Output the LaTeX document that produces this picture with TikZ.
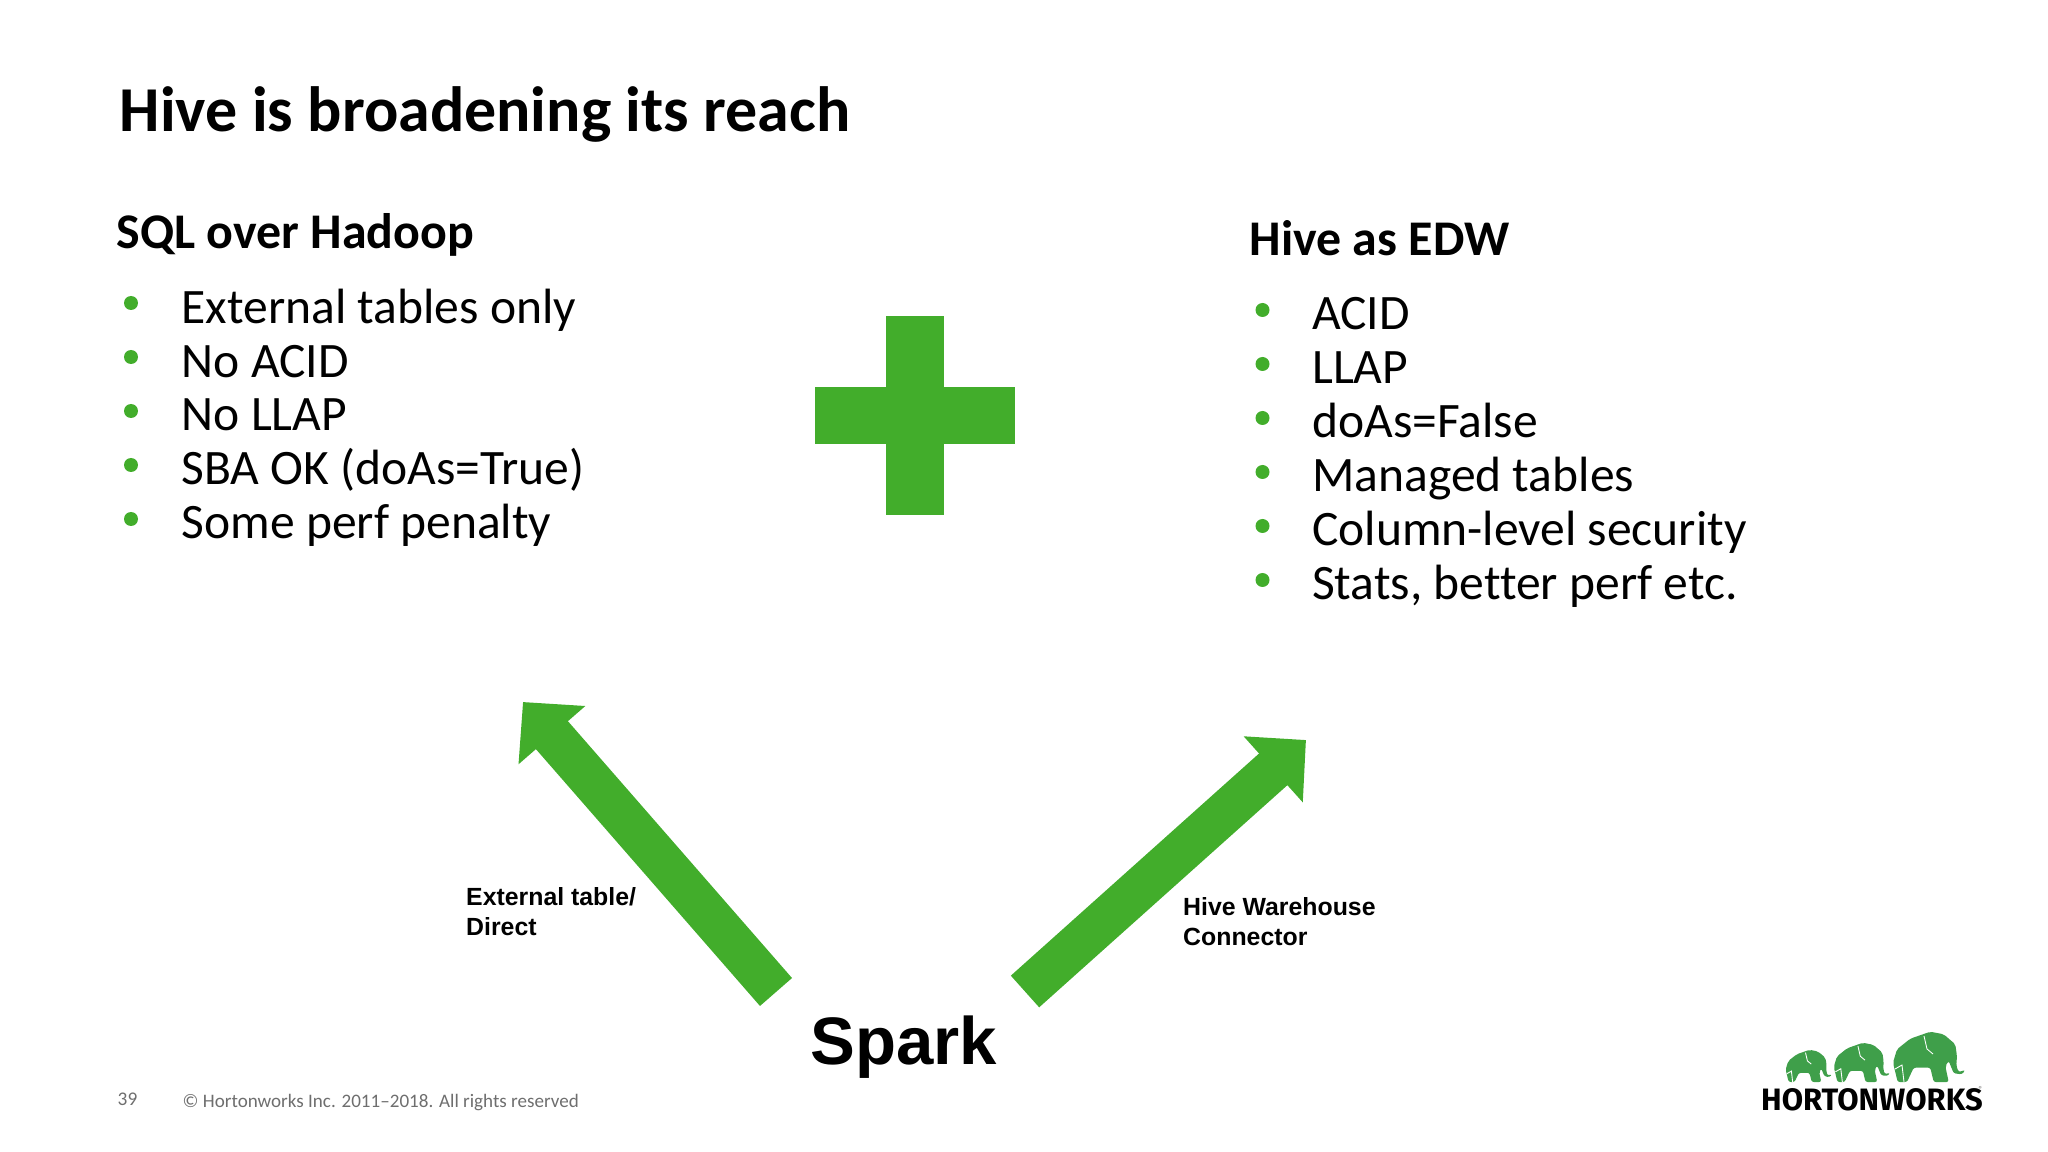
\documentclass[tikz,border=0pt]{standalone}
\usepackage{fontspec}
\usetikzlibrary{arrows.meta}
\setmainfont{Carlito}[Ligatures=NoCommon]
\newfontfamily\labelfont{Liberation Sans}
\newfontfamily\logofont{Fira Sans}
\definecolor{hwgreen}{HTML}{42AD2B}
\definecolor{logogreen}{HTML}{3F9F4A}
\definecolor{footgray}{HTML}{6E6E6E}
\begin{document}
\begin{tikzpicture}[
	txt/.style = {anchor=base west, inner sep=0},
	titletxt/.style = {txt, font=\fontsize{18.2}{22}\selectfont\bfseries},
	headtxt/.style = {txt, font=\fontsize{14.2}{17}\selectfont\bfseries},
	itemtxt/.style = {txt, font=\fontsize{14.1}{17}\selectfont},
	bulletdot/.style = {circle, fill=hwgreen, inner sep=0, minimum size=0.14cm},
	plusbar/.style = {fill=hwgreen, inner sep=0},
	bigarrow/.style = {draw=hwgreen, line width=0.425cm, -{Triangle[length=0.44cm,width=0.86cm]}},
	arrowtxt/.style = {anchor=north west, inner sep=0, align=left, font=\fontsize{7.07}{8.54}\selectfont\labelfont\bfseries},
	foottxt/.style = {txt, text=footgray, font=\fontsize{5.43}{6}\selectfont},
	elephant/.pic = {
		\fill[logogreen, rounded corners=0.6pt] (0.057,0) -- (0.01,0.193) -- (0.05,0.327) -- (0.183,0.433) -- (0.383,0.503) -- (0.517,0.477) -- (0.633,0.377) -- (0.65,0.26) -- (0.643,0.16) -- (0.667,0.1) -- (0.733,0.12) -- (0.70,0.077) -- (0.617,0.087) -- (0.567,0.21) -- (0.533,0.16) -- (0.567,0) -- (0.417,0) -- (0.383,0.143) -- (0.217,0.143) -- (0.15,0) -- cycle;
		\draw[white, line width=0.25pt] (0.32,0.46) -- (0.35,0.33) -- (0.41,0.28);
		\draw[white, line width=0.25pt] (0.03,0.13) -- (0.1,0.17) -- (0.12,0);
	}
]
	\useasboundingbox (0, 0) rectangle (20.48, -11.52);

	\node (title) at (1.19, -1.32) [titletxt] {Hive is broadening its reach};

	% left column
	\node (sqlhead) at (1.16, -2.485) [headtxt] {SQL over Hadoop};
	\node (sqldot1) at (1.31, -3.03) [bulletdot] {};
	\node (sqlitem1) at (1.81, -3.235) [itemtxt] {External tables only};
	\node (sqldot2) at (1.31, -3.57) [bulletdot] {};
	\node (sqlitem2) at (1.81, -3.775) [itemtxt] {No ACID};
	\node (sqldot3) at (1.31, -4.11) [bulletdot] {};
	\node (sqlitem3) at (1.81, -4.31) [itemtxt] {No LLAP};
	\node (sqldot4) at (1.31, -4.65) [bulletdot] {};
	\node (sqlitem4) at (1.81, -4.85) [itemtxt] {SBA OK (doAs=True)};
	\node (sqldot5) at (1.31, -5.19) [bulletdot] {};
	\node (sqlitem5) at (1.81, -5.39) [itemtxt] {Some perf penalty};

	% plus sign
	\node (plusv) at (9.145, -4.155) [plusbar, minimum width=0.58cm, minimum height=1.99cm] {};
	\node (plush) at (9.145, -4.155) [plusbar, minimum width=2.0cm, minimum height=0.57cm] {};

	% right column
	\node (edwhead) at (12.49, -2.555) [headtxt] {Hive as EDW};
	\node (edwdot1) at (12.625, -3.10) [bulletdot] {};
	\node (edwitem1) at (13.115, -3.295) [itemtxt] {ACID};
	\node (edwdot2) at (12.625, -3.64) [bulletdot] {};
	\node (edwitem2) at (13.115, -3.835) [itemtxt] {LLAP};
	\node (edwdot3) at (12.625, -4.18) [bulletdot] {};
	\node (edwitem3) at (13.115, -4.375) [itemtxt] {doAs=False};
	\node (edwdot4) at (12.625, -4.72) [bulletdot] {};
	\node (edwitem4) at (13.115, -4.915) [itemtxt] {Managed tables};
	\node (edwdot5) at (12.625, -5.26) [bulletdot] {};
	\node (edwitem5) at (13.115, -5.455) [itemtxt] {Column-level security};
	\node (edwdot6) at (12.625, -5.80) [bulletdot] {};
	\node (edwitem6) at (13.115, -5.995) [itemtxt] {Stats, better perf etc.};

	% spark and its arrows
	\node (spark) at (8.10, -10.64) [txt, font=\fontsize{19.1}{23}\selectfont\labelfont\bfseries] {Spark};
	\coordinate (exttail) at (7.76, -9.92);
	\coordinate (exttip) at (5.23, -7.02);
	\draw[bigarrow] (exttail) -- (exttip);
	\coordinate (hwctail) at (10.25, -9.915);
	\coordinate (hwctip) at (13.06, -7.40);
	\draw[bigarrow] (hwctail) -- (hwctip);
	\node (extlabel) at (4.655, -8.87) [arrowtxt] {External table/\\Direct};
	\node (hwclabel) at (11.825, -8.97) [arrowtxt] {Hive Warehouse\\Connector};

	% footer
	\node (pagenum) at (1.17, -11.05) [foottxt, font=\fontsize{5.5}{6}\selectfont] {39};
	\node (copyright) at (1.82, -11.07) [foottxt] {© Hortonworks Inc. 2011–2018. All rights reserved};

	% logo
	\pic at (17.85, -10.82) [scale=0.64] {elephant};
	\pic at (18.33, -10.82) [scale=0.78] {elephant};
	\pic at (18.92, -10.82) {elephant};
	\node (logotxt) at (17.605, -11.10) [txt, font=\fontsize{8.8}{10}\selectfont\logofont\bfseries] {HORTONWORKS};
	\node (logoreg) at (19.78, -10.93) [txt, text=footgray, font=\fontsize{2.5}{3}\selectfont] {®};
\end{tikzpicture}
\end{document}
